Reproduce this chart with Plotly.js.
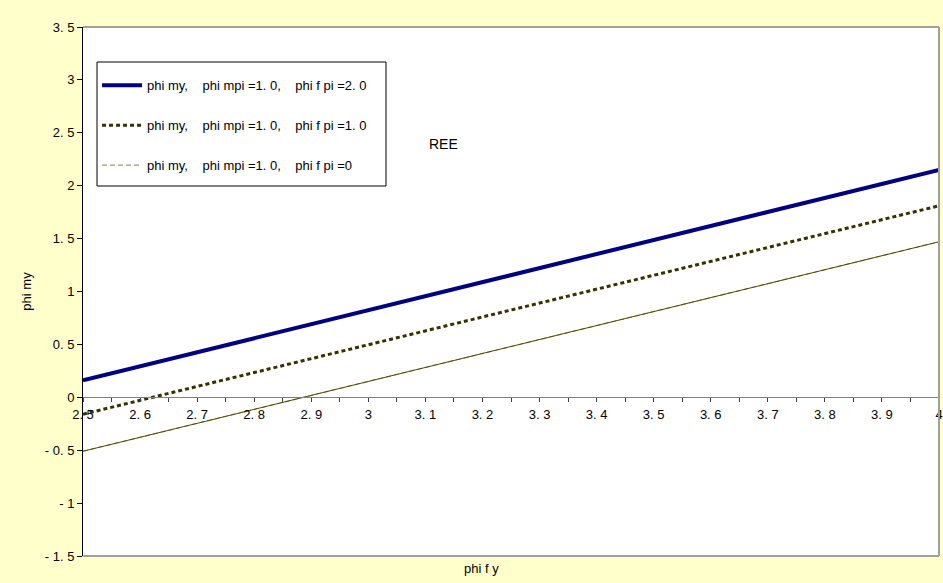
<!DOCTYPE html>
<html>
<head>
<meta charset="utf-8">
<script src="https://cdn.plot.ly/plotly-3.0.1.min.js"></script>
<style>html,body{margin:0;padding:0;background:#FFFFCC;}#chart{width:943px;height:583px;}</style>
</head>
<body>
<div id="chart"></div>
<script>
// Data
const phiFy = [2.5, 2.6, 2.7, 2.8, 2.9, 3.0, 3.1, 3.2, 3.3, 3.4, 3.5, 3.6, 3.7, 3.8, 3.9, 4.0];
const phiMy_fpi2 = [0.16, 0.293, 0.425, 0.558, 0.691, 0.823, 0.956, 1.089, 1.221, 1.354, 1.487, 1.619, 1.752, 1.885, 2.017, 2.15];
const phiMy_fpi1 = [-0.16, -0.029, 0.103, 0.234, 0.365, 0.497, 0.628, 0.759, 0.891, 1.022, 1.153, 1.285, 1.416, 1.547, 1.679, 1.81];
const phiMy_fpi0 = [-0.51, -0.378, -0.246, -0.114, 0.018, 0.15, 0.282, 0.414, 0.546, 0.678, 0.81, 0.942, 1.074, 1.206, 1.338, 1.47];
const SP = "\u00A0\u00A0\u00A0\u00A0";
const seriesNames = [
  "phi my," + SP + "phi mpi =1. 0," + SP + "phi f pi =2. 0",
  "phi my," + SP + "phi mpi =1. 0," + SP + "phi f pi =1. 0",
  "phi my," + SP + "phi mpi =1. 0," + SP + "phi f pi =0"
];
const xTickVals = [2.5, 2.6, 2.7, 2.8, 2.9, 3.0, 3.1, 3.2, 3.3, 3.4, 3.5, 3.6, 3.7, 3.8, 3.9, 4.0];
const xTickText = ["2. 5", "2. 6", "2. 7", "2. 8", "2. 9", "3", "3. 1", "3. 2", "3. 3", "3. 4", "3. 5", "3. 6", "3. 7", "3. 8", "3. 9", "4"];
const yTickVals = [-1.5, -1, -0.5, 0, 0.5, 1, 1.5, 2, 2.5, 3, 3.5];
const yTickText = ["- 1. 5", "- 1", "- 0. 5", "0", "0. 5", "1", "1. 5", "2", "2. 5", "3", "3. 5"];

const FONT = "Arial, 'Liberation Sans', sans-serif";
const FS = 13;

const traces = [
  {x: phiFy, y: phiMy_fpi2, name: seriesNames[0], mode: 'lines', legendgroup: 'a',
   line: {color: '#000080', width: 4}},
  {x: phiFy, y: phiMy_fpi1, name: seriesNames[1], mode: 'lines', legendgroup: 'b',
   line: {color: '#333300', width: 3, dash: '4px,3px'}},
  {x: phiFy, y: phiMy_fpi0, name: seriesNames[2], mode: 'lines', legendgroup: 'c',
   line: {color: '#999980', width: 1.2, dash: '5px,3px'}},
  {x: phiFy, y: phiMy_fpi0, name: seriesNames[2], mode: 'lines', showlegend: false,
   line: {color: '#4d4d00', width: 1}}
];

const layout = {
  width: 943, height: 583,
  paper_bgcolor: '#FFFFCC', plot_bgcolor: '#FFFFFF',
  margin: {l: 83, r: 4, t: 27, b: 27, pad: 0},
  font: {family: FONT, size: FS, color: '#000000'},
  showlegend: true,
  legend: {
    x: 0.0164, y: 0.918, xanchor: 'left', yanchor: 'top',
    bgcolor: 'rgba(0,0,0,0)', borderwidth: 0,
    font: {family: FONT, size: FS, color: '#000000'},
    traceorder: 'grouped', tracegroupgap: 20, itemwidth: 40
  },
  xaxis: {
    range: [2.5, 4.0], showgrid: false, zeroline: false,
    anchor: 'free', position: 0.3,
    showline: true, linecolor: '#808080', linewidth: 1,
    tickmode: 'array', tickvals: xTickVals, ticktext: xTickText,
    ticks: 'outside', ticklen: 4, tickcolor: '#404040', tickwidth: 1,
    ticklabelstandoff: 1,
    minor: {dtick: 0.05, tick0: 2.5, ticks: 'outside', ticklen: 4, tickcolor: '#404040', showgrid: false},
    tickfont: {family: FONT, size: FS, color: '#000000'},
    title: {text: ''}
  },
  yaxis: {
    range: [-1.5, 3.5], showgrid: false, zeroline: false,
    showline: true, linecolor: '#000000', linewidth: 1,
    tickmode: 'array', tickvals: yTickVals, ticktext: yTickText,
    ticks: 'outside', ticklen: 5, tickcolor: '#000000',
    tickfont: {family: FONT, size: FS, color: '#000000'},
    title: {text: 'phi my', font: {family: FONT, size: FS}, standoff: 10}
  },
  shapes: [
    {type: 'line', xref: 'paper', yref: 'paper', x0: 0, x1: 1, y0: 1, y1: 1, line: {color: '#A0A0A0', width: 2}},
    {type: 'line', xref: 'paper', yref: 'paper', x0: 1, x1: 1, y0: 0, y1: 1, line: {color: '#A0A0A0', width: 2}},
    {type: 'line', xref: 'paper', yref: 'paper', x0: 0, x1: 1, y0: 0, y1: 0, line: {color: '#A0A0A0', width: 2}},
    {type: 'rect', xref: 'paper', yref: 'paper', layer: 'above',
     x0: (97 - 83) / 856, x1: (386 - 83) / 856, y0: (556 - 186) / 529, y1: (556 - 62) / 529,
     fillcolor: '#FFFFFF', line: {color: '#000000', width: 1}}
  ],
  annotations: [
    {text: 'REE', xref: 'paper', yref: 'paper', x: (443 - 83) / 856, y: (556 - 134) / 529,
     showarrow: false, font: {family: FONT, size: 14, color: '#000000'}},
    {text: 'phi f y', xref: 'paper', yref: 'paper', x: (481 - 83) / 856, y: -0.006,
     yanchor: 'top', showarrow: false, font: {family: FONT, size: FS, color: '#000000'}}
  ]
};

Plotly.newPlot('chart', traces, layout, {displayModeBar: false, staticPlot: true});
</script>
</body>
</html>
